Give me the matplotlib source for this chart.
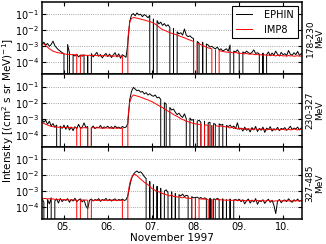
import numpy as np
import matplotlib
matplotlib.use("Agg")
import matplotlib.pyplot as plt
from matplotlib.ticker import FixedLocator, NullLocator

# hourly samples starting at 4.5 November 1997 (day-of-month, fractional)
start_day = 4.5

energy_labels = ["178-230\nMeV", "230-327\nMeV", "327-485\nMeV"]
day_ticks = [5, 6, 7, 8, 9, 10]
day_labels = ["05.", "06.", "07.", "08.", "09.", "10."]

# ---- 178-230 MeV ----
imp8_1 = [1.6e-3, 1.4e-3, 1.1e-3, 9e-4, 7e-4, 6e-4, 5e-4, 4.6e-4, 4.2e-4, 4e-4, 3.8e-4, 3.6e-4, 3.4e-4,
          3.3e-4, 3.1e-4, 3.2e-4, 3e-4, 3.1e-4, 2.9e-4, 3e-4, 0, 2.8e-4, 2.9e-4, 2.7e-4, 2.8e-4,
          2.7e-4, 2.8e-4, 2.6e-4, 2.7e-4, 2.8e-4, 2.6e-4, 2.7e-4, 2.5e-4, 2.6e-4, 2.7e-4, 2.5e-4, 2.6e-4,
          2.5e-4, 2.6e-4, 2.4e-4, 2.5e-4, 2.6e-4, 2.4e-4, 2.5e-4, 2.4e-4, 0, 0,
          3e-3, 3e-2, 5.5e-2, 6.2e-2, 6e-2, 5.6e-2, 5.3e-2, 5e-2, 4.6e-2, 4.4e-2, 4e-2, 3.7e-2, 3.5e-2, 3.2e-2,
          2.8e-2, 2.4e-2, 2e-2, 1.6e-2, 1.3e-2, 1.1e-2, 1e-2, 9e-3, 8e-3, 7e-3, 6.5e-3, 6e-3,
          5.5e-3, 5e-3, 4.5e-3, 4e-3, 3.7e-3, 3.4e-3, 3e-3, 2.7e-3, 2.4e-3, 2.2e-3, 2e-3, 0,
          1.6e-3, 1.4e-3, 1.3e-3, 1.1e-3, 1e-3, 9e-4, 8e-4, 7.5e-4, 7e-4, 0, 6e-4, 0,
          5.5e-4, 5e-4, 4.8e-4, 4.5e-4, 4.4e-4, 4.2e-4, 4.5e-4, 4e-4, 3.9e-4, 4.3e-4, 3.8e-4, 3.6e-4,
          3.7e-4, 3.5e-4, 3.4e-4, 3.6e-4, 3.3e-4, 3.2e-4, 3.4e-4, 3.1e-4, 3e-4, 3.2e-4, 2.9e-4, 3e-4,
          2.8e-4, 3e-4, 2.7e-4, 2.9e-4, 2.6e-4, 2.8e-4, 2.7e-4, 2.5e-4, 2.8e-4, 2.6e-4, 2.7e-4, 2.5e-4,
          2.6e-4, 2.4e-4, 2.7e-4, 2.5e-4, 2.6e-4, 2.4e-4, 2.5e-4, 2.6e-4, 2.4e-4, 2.5e-4, 2.6e-4, 2.5e-4]
ephin_1 = [1.4e-3, 1.8e-3, 1.2e-3, 1.5e-3, 1e-3, 1.3e-3, 2.1e-3, 1.1e-3, 8e-4, 6e-4, 5e-4, 4e-4, 3.5e-4,
           0, 1.3e-3, 4e-4, 0, 3e-4, 2.5e-4, 3.2e-4, 2.2e-4, 2.8e-4, 2.4e-4, 3e-4, 0,
           2.6e-4, 0, 3.5e-4, 2.2e-4, 3e-4, 4.2e-4, 2.4e-4, 3.1e-4, 1.9e-4, 2.8e-4, 3.6e-4, 2.3e-4,
           3.3e-4, 2e-4, 2.9e-4, 4e-4, 2.2e-4, 3.4e-4, 1.8e-4, 3e-4, 2.5e-4, 2.1e-4,
           1.5e-3, 3.5e-2, 9e-2, 1.1e-1, 8e-2, 1.2e-1, 9e-2, 1e-1, 7e-2, 9.5e-2, 8e-2, 6e-2, 8.5e-2, 0,
           5e-2, 0, 4e-2, 2.5e-2, 3.2e-2, 2e-2, 2.6e-2, 1.8e-2, 2.2e-2, 1.5e-2, 0, 1.3e-2,
           0, 8e-3, 6e-3, 7e-3, 5e-3, 1.2e-2, 5e-3, 4e-3, 4.5e-3, 3.5e-3, 3e-3, 0,
           2e-3, 1.6e-3, 0, 1.8e-3, 0, 1.4e-3, 1.2e-3, 9e-4, 1e-3, 8e-4, 7e-4, 9e-4,
           6e-4, 7e-4, 5e-4, 6e-4, 7e-4, 5e-4, 1.2e-3, 0, 5e-4, 4.5e-4, 6e-4, 4e-4,
           0, 4.5e-4, 3.8e-4, 5e-4, 4e-4, 3.5e-4, 4.2e-4, 6e-4, 3.6e-4, 4e-4, 3.3e-4, 0,
           3.8e-4, 0, 3e-4, 4.5e-4, 2.6e-4, 3.8e-4, 2.9e-4, 5e-4, 3.2e-4, 2.5e-4, 4.2e-4, 3e-4,
           3.5e-4, 2.7e-4, 5.5e-4, 3.2e-4, 2.8e-4, 4e-4, 3e-4, 4.8e-4, 2.7e-4, 3.6e-4, 3.1e-4, 3.4e-4]

# ---- 230-327 MeV ----
imp8_2 = [6e-4, 5e-4, 4.5e-4, 4e-4, 3.6e-4, 3.3e-4, 3.2e-4, 3e-4, 3.1e-4, 2.9e-4, 3e-4, 2.8e-4, 2.9e-4,
          2.8e-4, 2.7e-4, 2.9e-4, 2.8e-4, 2.6e-4, 2.8e-4, 2.7e-4, 0, 2.7e-4, 2.6e-4, 2.8e-4, 2.7e-4,
          2.6e-4, 0, 2.7e-4, 2.8e-4, 2.6e-4, 2.7e-4, 2.8e-4, 2.6e-4, 2.7e-4, 2.5e-4, 2.7e-4, 2.6e-4,
          2.7e-4, 2.5e-4, 2.6e-4, 2.7e-4, 2.5e-4, 2.6e-4, 2.5e-4, 2.6e-4, 0, 0,
          1e-3, 1e-2, 2.2e-2, 3e-2, 2.8e-2, 2.6e-2, 2.4e-2, 2.2e-2, 2e-2, 1.8e-2, 1.6e-2, 1.5e-2, 1.3e-2, 1.2e-2,
          1e-2, 9e-3, 7.5e-3, 6.5e-3, 5.5e-3, 5e-3, 4e-3, 3.5e-3, 3e-3, 2.5e-3, 2.2e-3, 1.8e-3,
          1.6e-3, 1.4e-3, 1.2e-3, 1e-3, 9e-4, 8e-4, 7e-4, 6.5e-4, 6e-4, 5.5e-4, 5e-4, 4.8e-4,
          4.6e-4, 4.4e-4, 4.5e-4, 0, 4.2e-4, 4e-4, 3.9e-4, 0, 3.8e-4, 0, 3.6e-4, 3.5e-4,
          3.4e-4, 3.5e-4, 3.3e-4, 3.2e-4, 3.1e-4, 3e-4, 2.6e-4, 3.2e-4, 2.4e-4, 2.9e-4, 2.2e-4, 2.6e-4,
          2.3e-4, 2.5e-4, 2.1e-4, 2.4e-4, 2.2e-4, 2.3e-4, 2.1e-4, 2.2e-4, 2.4e-4, 2.1e-4, 2.2e-4, 2.3e-4,
          2.1e-4, 2.2e-4, 2e-4, 2.2e-4, 2.1e-4, 2.3e-4, 2e-4, 2.1e-4, 2.2e-4, 2e-4, 2.1e-4, 2.2e-4,
          2e-4, 2.1e-4, 2.2e-4, 2e-4, 2.1e-4, 2.3e-4, 2.1e-4, 2e-4, 2.2e-4, 2.1e-4, 2.3e-4, 2.2e-4]
ephin_2 = [9e-4, 6e-4, 8e-4, 4.5e-4, 7e-4, 3.5e-4, 5e-4, 3e-4, 4e-4, 0, 3.5e-4, 2.5e-4, 4e-4,
           2.2e-4, 3.8e-4, 2e-4, 3e-4, 1.8e-4, 3.2e-4, 2.4e-4, 4.5e-4, 2.6e-4, 3e-4, 5.5e-4, 2.8e-4,
           3.3e-4, 0, 2.6e-4, 3.5e-4, 2.4e-4, 3e-4, 2.7e-4, 3.8e-4, 2.5e-4, 3.1e-4, 2.8e-4, 3.4e-4,
           2.6e-4, 3.2e-4, 2.4e-4, 3.5e-4, 2.7e-4, 3e-4, 2.5e-4, 3.3e-4, 2.8e-4, 3e-4,
           5e-4, 1.5e-2, 5e-2, 9e-2, 7e-2, 5.5e-2, 6e-2, 4.5e-2, 5e-2, 3.5e-2, 4.2e-2, 3e-2, 3.6e-2, 2.8e-2,
           2.5e-2, 3e-2, 2e-2, 2.2e-2, 1.6e-2, 0, 1e-2, 8e-3, 0, 5e-3, 3.5e-3, 4e-3,
           2.5e-3, 1.8e-3, 2.2e-3, 1.5e-3, 1.2e-3, 2e-3, 1e-3, 0, 1.1e-3, 8e-4, 9e-4, 0,
           7e-4, 8e-4, 6e-4, 0, 7e-4, 0, 5.5e-4, 6e-4, 0, 5e-4, 4.5e-4, 0,
           4.8e-4, 4e-4, 4.5e-4, 0, 3.8e-4, 3.2e-4, 4e-4, 2.8e-4, 3.5e-4, 2.4e-4, 5.6e-4, 2.2e-4,
           2.6e-4, 1.7e-4, 3e-4, 1.9e-4, 2.4e-4, 1.5e-4, 2.8e-4, 2e-4, 3.3e-4, 1.6e-4, 2.5e-4, 1.9e-4,
           3e-4, 1.4e-4, 2.6e-4, 2.1e-4, 3.2e-4, 1.7e-4, 2.4e-4, 2e-4, 2.9e-4, 1.8e-4, 2.5e-4, 2.2e-4,
           2.8e-4, 1.9e-4, 2.4e-4, 3.4e-4, 2.1e-4, 2.6e-4, 2.3e-4, 3e-4, 2e-4, 2.7e-4, 2.2e-4, 2.5e-4]

# ---- 327-485 MeV ----
imp8_3 = [3.6e-4, 3.4e-4, 3.5e-4, 3.2e-4, 3.4e-4, 3.1e-4, 3.3e-4, 3e-4, 3.2e-4, 2.9e-4, 3.1e-4, 2.8e-4, 3e-4,
          2.8e-4, 2.9e-4, 2.7e-4, 2.9e-4, 2.8e-4, 2.7e-4, 2.8e-4, 0, 2.7e-4, 2.8e-4, 2.6e-4, 2.8e-4,
          2.7e-4, 0, 2.8e-4, 2.6e-4, 2.7e-4, 2.8e-4, 2.6e-4, 2.7e-4, 2.8e-4, 2.6e-4, 2.7e-4, 2.6e-4,
          2.7e-4, 2.8e-4, 2.6e-4, 2.7e-4, 2.6e-4, 2.7e-4, 2.6e-4, 2.7e-4, 0, 0,
          6e-4, 3e-3, 7e-3, 1e-2, 1.1e-2, 9e-3, 7e-3, 5.5e-3, 4.5e-3, 3.5e-3, 3e-3, 2.5e-3, 2e-3, 1.5e-3,
          1.3e-3, 1.1e-3, 1e-3, 9e-4, 8e-4, 7e-4, 6.5e-4, 6e-4, 5.5e-4, 5e-4, 6e-4, 4.5e-4,
          4.8e-4, 4.2e-4, 4.5e-4, 4e-4, 3.8e-4, 4.2e-4, 3.6e-4, 3.8e-4, 3.5e-4, 3.6e-4, 0, 3.4e-4,
          0, 3.3e-4, 3.2e-4, 3.4e-4, 3.1e-4, 3.2e-4, 3e-4, 0, 3.1e-4, 0, 2.9e-4, 3e-4,
          2.8e-4, 2.9e-4, 2.7e-4, 2.8e-4, 2.6e-4, 2.8e-4, 2.5e-4, 2.7e-4, 2.6e-4, 2.8e-4, 2.5e-4, 2.6e-4,
          2.7e-4, 2.5e-4, 2.6e-4, 2.4e-4, 2.6e-4, 2.5e-4, 2.7e-4, 2.4e-4, 2.5e-4, 2.6e-4, 2.4e-4, 2.5e-4,
          2.6e-4, 2.4e-4, 2.5e-4, 2.6e-4, 2.4e-4, 2.5e-4, 2.3e-4, 2.5e-4, 2.4e-4, 2.6e-4, 2.4e-4, 2.5e-4,
          2.4e-4, 2.6e-4, 2.5e-4, 2.3e-4, 2.5e-4, 2.4e-4, 2.6e-4, 2.5e-4, 2.4e-4, 2.6e-4, 2.5e-4, 2.4e-4]
ephin_3 = [3.5e-4, 2e-4, 0, 3e-4, 1.6e-4, 3.8e-4, 0, 2.5e-4, 3.2e-4, 1.8e-4, 3.5e-4, 2.2e-4, 3e-4,
           2.6e-4, 3.4e-4, 2e-4, 3e-4, 2.4e-4, 3.6e-4, 2.2e-4, 2.8e-4, 3.3e-4, 2.1e-4, 2.9e-4, 1.2e-4,
           8e-5, 2.7e-4, 3.2e-4, 2.4e-4, 3e-4, 2.6e-4, 3.4e-4, 2.3e-4, 3e-4, 2.7e-4, 3.5e-4, 2.5e-4,
           3.1e-4, 2.4e-4, 2.9e-4, 3.3e-4, 2.5e-4, 3e-4, 2.7e-4, 3.2e-4, 2.6e-4, 2.9e-4,
           5e-4, 2e-3, 6e-3, 1.1e-2, 1.5e-2, 1.8e-2, 1.4e-2, 1.6e-2, 1.2e-2, 8e-3, 6e-3, 0, 4e-3, 0,
           2.5e-3, 0, 2e-3, 0, 1.5e-3, 0, 1e-3, 1.2e-3, 8e-4, 0, 9e-4, 0,
           7e-4, 0, 6e-4, 5e-4, 6.5e-4, 4.5e-4, 5.5e-4, 5e-4, 0, 4.5e-4, 3.8e-4, 4e-4,
           4.2e-4, 3.5e-4, 4e-4, 3.2e-4, 3.8e-4, 3.4e-4, 0, 3.6e-4, 0, 3.3e-4, 3e-4, 3.5e-4,
           3.1e-4, 0, 3.3e-4, 0, 2.9e-4, 0, 3.2e-4, 0, 2.8e-4, 3e-4, 2.6e-4, 3.1e-4,
           2.2e-4, 2.9e-4, 1.6e-4, 2.5e-4, 3.2e-4, 1.8e-4, 2.7e-4, 2.1e-4, 3.4e-4, 1.5e-4, 2.6e-4, 2.2e-4,
           2.9e-4, 1.7e-4, 2.5e-4, 3.1e-4, 2e-4, 2.7e-4, 1.3e-4, 4e-5, 2.4e-4, 3e-4, 1.9e-4, 2.6e-4,
           2.8e-4, 2.2e-4, 3.3e-4, 2.5e-4, 2e-4, 2.9e-4, 2.4e-4, 3.2e-4, 2.3e-4, 2.7e-4, 2.1e-4, 2.6e-4]

ephin_all = [ephin_1, ephin_2, ephin_3]
imp8_all = [imp8_1, imp8_2, imp8_3]

plt.rcParams['font.family'] = ['DejaVu Sans']
plt.rcParams['mathtext.default'] = 'regular'

fig = plt.figure(figsize=(3.26, 2.44), dpi=100)
gs = fig.add_gridspec(3, 1, left=0.129, right=0.926, top=0.992, bottom=0.102, hspace=0)
axes = [fig.add_subplot(gs[i]) for i in range(3)]

for i, ax in enumerate(axes):
    e = np.array(ephin_all[i], dtype=float)
    p = np.array(imp8_all[i], dtype=float)
    te = start_day + np.arange(len(e)) / 24.0
    tp = start_day + np.arange(len(p)) / 24.0
    ax.set_yscale('log', nonpositive='clip')
    ax.plot(te, e, color='black', lw=0.7, label='EPHIN')
    ax.plot(tp, p, color='#ff0000', lw=0.7, label='IMP8')
    ax.set_xlim(4.5, 10.43)
    ax.set_ylim(1.8e-5, 0.58)
    ax.yaxis.set_major_locator(FixedLocator([1e-4, 1e-3, 1e-2, 1e-1]))
    ax.yaxis.set_minor_locator(NullLocator())
    ax.xaxis.set_major_locator(FixedLocator(day_ticks))
    ax.xaxis.set_minor_locator(NullLocator())
    ax.grid(True, axis='y', which='major', color='#888888', linestyle=':', linewidth=0.6)
    ax.tick_params(direction='in', top=True, right=True, labelsize=7, length=3, width=0.8, pad=2)
    for s in ax.spines.values():
        s.set_linewidth(1.1)
    if i < 2:
        ax.tick_params(labelbottom=False)
    else:
        ax.set_xticklabels(day_labels)
    ax.text(1.015, 0.5, energy_labels[i], transform=ax.transAxes, rotation=90,
            ha='left', va='center', fontsize=6.5, multialignment='center', linespacing=1.0)

leg = axes[0].legend(loc='upper right', fontsize=7, frameon=True, fancybox=False,
                     edgecolor='black', framealpha=1, handlelength=1.6, handletextpad=1.3,
                     borderaxespad=0.4, labelspacing=0.5)
leg.get_frame().set_linewidth(0.8)

axes[1].set_ylabel('Intensity [(cm$^2$ s sr MeV)$^{-1}$]', fontsize=7.5)
axes[1].yaxis.set_label_coords(-0.1, 0.5)
axes[2].set_xlabel('November 1997', fontsize=7.5, labelpad=1)

fig.savefig('out.png', dpi=100)
